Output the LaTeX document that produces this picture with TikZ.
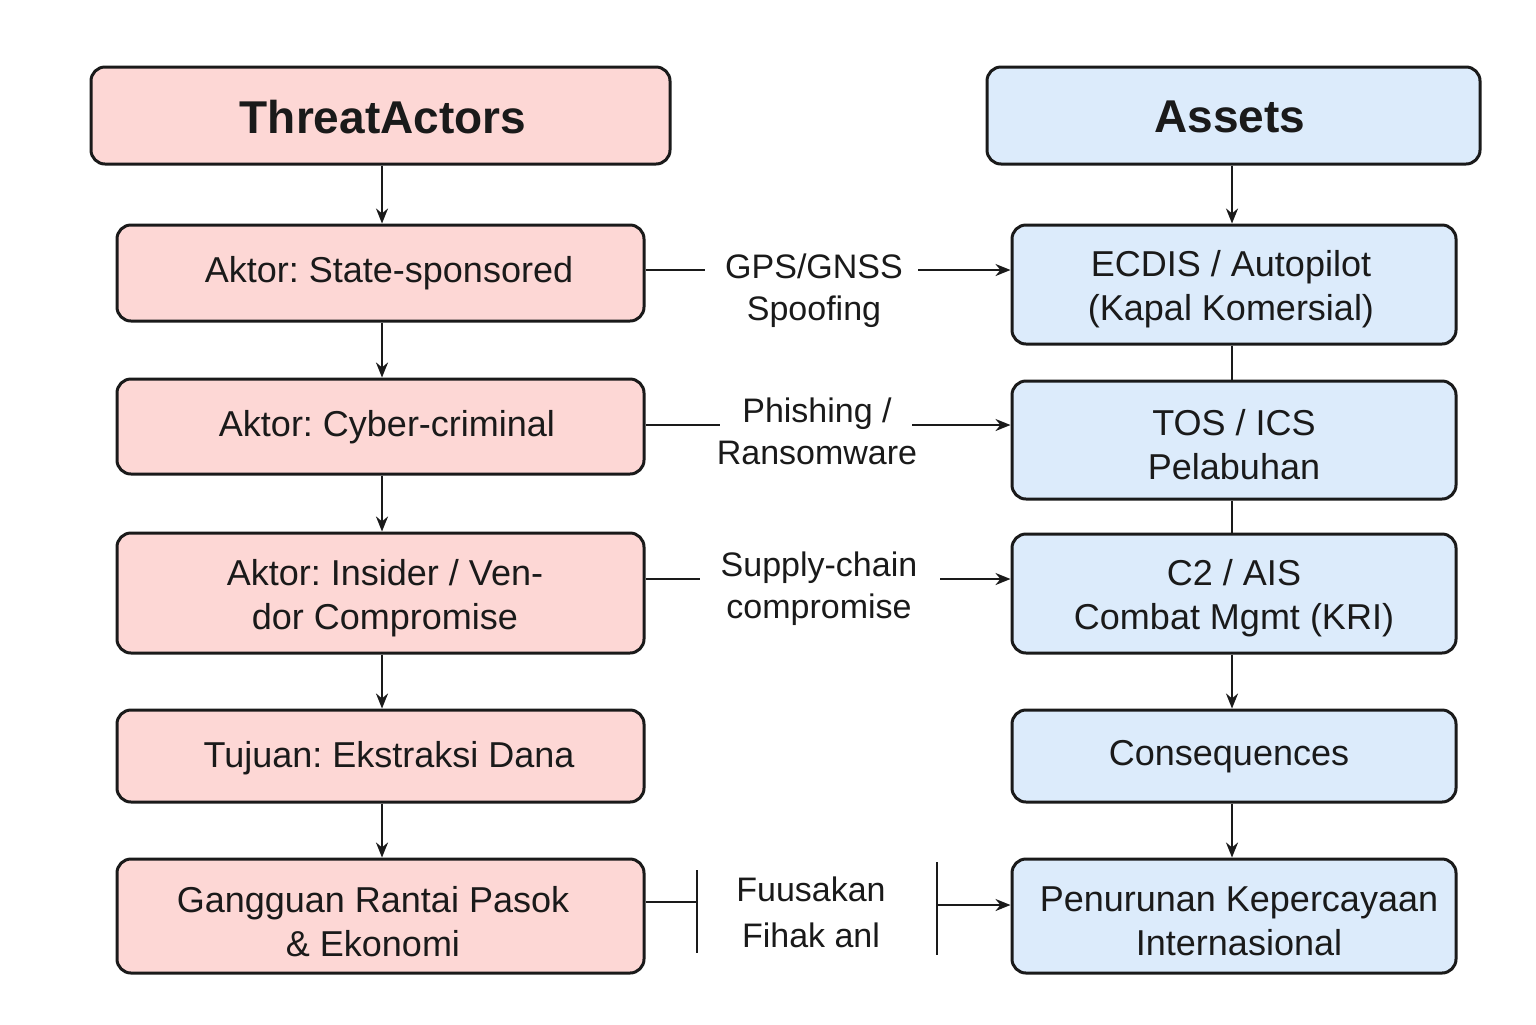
\documentclass[tikz,border=0pt]{standalone}
\usepackage{fontspec}
\setmainfont{Liberation Sans}
\frenchspacing
\usetikzlibrary{arrows.meta}
\definecolor{pinkfill}{HTML}{FDD7D5}
\definecolor{bluefill}{HTML}{DCEBFB}
\definecolor{ink}{HTML}{1A1A1A}
\begin{document}
\begin{tikzpicture}[x=0.5pt,y=-0.5pt,
  box/.style={draw=ink, line width=1.5pt, rounded corners=7pt, inner sep=0pt},
  pbox/.style={box, fill=pinkfill},
  bbox/.style={box, fill=bluefill},
  btxt/.style={align=center, inner sep=0pt, font=\fontsize{18}{22}\selectfont, text=ink},
  title/.style={inner sep=0pt, text=ink, font=\fontsize{23}{27}\selectfont\bfseries},
  lbl/.style={align=center, font=\fontsize{17}{21}\selectfont, text=ink, inner sep=0pt},
  conn/.style={draw=ink, line width=1.1pt},
  arr/.style={conn, -{Stealth[length=7.5pt,width=6pt]}}]
\useasboundingbox (0,0) rectangle (1536,1024);
\fill[white] (0,0) rectangle (1536,1024);
% left column boxes
\node[pbox, minimum width=289.5pt, minimum height=48.5pt] (TA) at (380.5,115.5) {};
\node[pbox, minimum width=263.5pt, minimum height=48pt] (s1) at (380.5,273) {};
\node[pbox, minimum width=263.5pt, minimum height=47.5pt] (s2) at (380.5,426.5) {};
\node[pbox, minimum width=263.5pt, minimum height=60pt] (s3) at (380.5,593) {};
\node[pbox, minimum width=263.5pt, minimum height=46pt] (s4) at (380.5,756) {};
\node[pbox, minimum width=263.5pt, minimum height=57pt] (s5) at (380.5,916) {};
% right column boxes
\node[bbox, minimum width=246.5pt, minimum height=48.5pt] (AS) at (1233.5,115.5) {};
\node[bbox, minimum width=222pt, minimum height=59.5pt] (r1) at (1234,284.5) {};
\node[bbox, minimum width=222pt, minimum height=59pt] (r2) at (1234,440) {};
\node[bbox, minimum width=222pt, minimum height=59.5pt] (r3) at (1234,593.5) {};
\node[bbox, minimum width=222pt, minimum height=46pt] (r4) at (1234,756) {};
\node[bbox, minimum width=222pt, minimum height=57pt] (r5) at (1234,916) {};
% box texts
\node[title] (TAt) at (383,117) {ThreatActors};
\node[btxt] (s1t) at (389,273) {Aktor: State-sponsored};
\node[btxt] (s2t) at (387,427) {Aktor: Cyber-criminal};
\node[btxt] (s3t) at (385,598) {Aktor: Insider / Ven-\\dor Compromise};
\node[btxt] (s4t) at (389,758) {Tujuan: Ekstraksi Dana};
\node[btxt] (s5t) at (373,922) {Gangguan Rantai Pasok\\\& Ekonomi};
\node[title] (ASt) at (1230,117) {Assets};
\node[btxt] (r1t) at (1231,289) {ECDIS / Autopilot\\(Kapal Komersial)};
\node[btxt] (r2t) at (1234,445) {TOS / ICS\\Pelabuhan};
\node[btxt] (r3t) at (1234,598) {C2 / AIS\\Combat Mgmt (KRI)};
\node[btxt] (r4t) at (1229,757) {Consequences};
\node[btxt] (r5t) at (1239,921) {Penurunan Kepercayaan\\Internasional};
% vertical connectors
\draw[arr] (TA.south -| 382,0) -- (s1.north -| 382,0);
\draw[arr] (s1.south -| 382,0) -- (s2.north -| 382,0);
\draw[arr] (s2.south -| 382,0) -- (s3.north -| 382,0);
\draw[arr] (s3.south -| 382,0) -- (s4.north -| 382,0);
\draw[arr] (s4.south -| 382,0) -- (s5.north -| 382,0);
\draw[arr] (AS.south -| 1232,0) -- (r1.north -| 1232,0);
\draw[conn] (r1.south -| 1232,0) -- (r2.north -| 1232,0);
\draw[conn] (r2.south -| 1232,0) -- (r3.north -| 1232,0);
\draw[arr] (r3.south -| 1232,0) -- (r4.north -| 1232,0);
\draw[arr] (r4.south -| 1232,0) -- (r5.north -| 1232,0);
% labels
\node[lbl] (t1) at (814,291) {GPS/GNSS\\Spoofing};
\node[lbl] (t2) at (817,431) {Phishing /\\Ransomware};
\node[lbl] (t3) at (819,589) {Supply-chain\\compromise};
\node[lbl, font=\fontsize{17}{23}\selectfont] (t4) at (811,912) {Fuusakan\\Fihak anl};
% horizontal connectors
\coordinate (a1) at (705,270); \coordinate (b1) at (918,270);
\draw[conn] (a1 -| s1.east) -- (a1);
\draw[arr] (b1) -- (b1 -| r1.west);
\coordinate (a2) at (720,425); \coordinate (b2) at (912,425);
\draw[conn] (a2 -| s2.east) -- (a2);
\draw[arr] (b2) -- (b2 -| r2.west);
\coordinate (a3) at (700,579); \coordinate (b3) at (940,579);
\draw[conn] (a3 -| s3.east) -- (a3);
\draw[arr] (b3) -- (b3 -| r3.west);
\coordinate (a4) at (697,902); \coordinate (a4t) at (697,870); \coordinate (a4b) at (697,953);
\coordinate (b4) at (937,905); \coordinate (b4t) at (937,862); \coordinate (b4b) at (937,955);
\draw[conn] (a4 -| s5.east) -- (a4);
\draw[conn] (a4t) -- (a4b);
\draw[conn] (b4t) -- (b4b);
\draw[arr] (b4) -- (b4 -| r5.west);
\end{tikzpicture}
\end{document}
